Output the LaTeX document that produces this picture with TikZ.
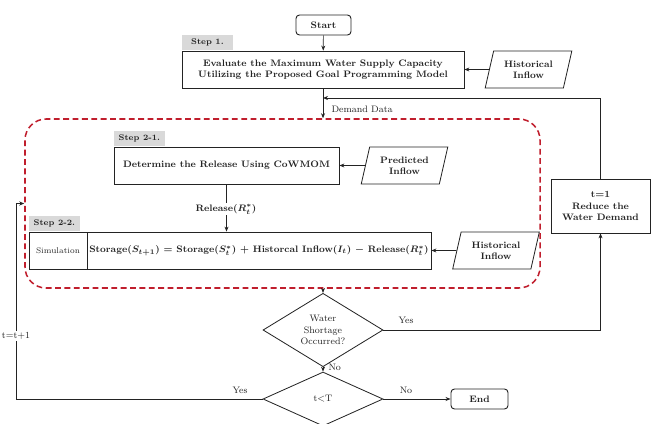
\documentclass[tikz,border=0pt]{standalone}
\usetikzlibrary{arrows.meta,positioning,shapes.geometric}
\definecolor{dashred}{RGB}{192,30,45}
\definecolor{tagfill}{RGB}{217,217,217}
\definecolor{ink}{RGB}{35,35,35}
\tikzset{
  >={Stealth[length=1.5mm,width=1.2mm]},
  term/.style={draw=ink,rounded corners=3pt,line width=0.8pt,minimum width=#1,
    minimum height=0.6cm,font=\footnotesize\bfseries},
  term/.default=1.65cm,
  proc/.style={draw=ink,line width=0.7pt,minimum width=#1,minimum height=1.11cm,
    align=center,inner sep=1pt,font=\footnotesize\bfseries},
  tag/.style={fill=tagfill,minimum width=1.53cm,minimum height=0.45cm,inner sep=1pt,
    font=\scriptsize\bfseries},
  data/.style={trapezium,trapezium stretches=true,trapezium left angle=75,
    trapezium right angle=105,draw=ink,line width=0.7pt,minimum width=2.6cm,
    minimum height=1.11cm,align=center,font=\footnotesize\bfseries},
  decide/.style={diamond,draw=ink,line width=0.7pt,minimum width=3.6cm,
    minimum height=1.62cm,inner sep=0pt,align=center,font=\footnotesize},
  lab/.style={font=\footnotesize,inner sep=1pt},
}
\begin{document}
\begin{tikzpicture}[x=0.03cm,y=-0.03cm,color=ink,line width=0.6pt]
  \useasboundingbox (0,0) rectangle (655,423);
  % dashed block round step 2
  \node[draw=dashred,dashed,line width=1.3pt,dash pattern=on 5pt off 3pt,
    rounded corners=18pt,minimum width=15.45cm,minimum height=5.07cm] (loop) at (282.5,203.5) {};
  % step 1
  \node[term] (start) at (323.5,25) {Start};
  \node[proc=8.46cm] (step1) at (323,69.5)
    {Evaluate the Maximum Water Supply Capacity\\Utilizing the Proposed Goal Programming Model};
  \node[tag,anchor=south west] (tag1) at (step1.north west) {Step 1.};
  \node[data] (hist1) at (528.5,69.5) {Historical\\Inflow};
  % step 2-1 and 2-2
  \node[proc=6.75cm] (step21) at (226.5,165.5) {Determine the Release Using CoWMOM};
  \node[tag,anchor=south west] (tag21) at (step21.north west) {Step 2-1.};
  \node[data] (pred) at (404.5,165.5) {Predicted\\Inflow};
  \node[proc=1.74cm,font=\scriptsize] (sim) at (58,250.5) {Simulation};
  \node[proc=10.32cm,font=\footnotesize\bfseries\boldmath] (eq) at (259,250.5)
    {Storage$(S_{t+1})$ = Storage$(S_t^{*})$ + Historcal Inflow$(I_t)$ $-$ Release$(R_t^{*})$};
  \node[tag,anchor=south west] (tag22) at (sim.north west) {Step 2-2.};
  \node[data] (hist2) at (496,250.5) {Historical\\Inflow};
  \node[proc=2.97cm,minimum height=1.62cm] (reduce) at (600.5,206) {t=1\\Reduce the\\Water Demand};
  % checks
  \node[decide] (d1) at (323,330) {Water\\Shortage\\Occurred?};
  \node[decide] (d2) at (323,399) {t<T};
  \node[term=1.71cm] (end) at (479.5,399) {End};
  \coordinate (fb) at (323,98);
  \coordinate (back) at (16,203.5);

  \draw[->] (start) -- (step1);
  \draw[->] (hist1) -- (step1);
  \draw[->] (step1.south) -- (step1.south |- loop.north);
  \node[lab,anchor=west] (demand) at (330,109) {Demand Data};
  \draw[->] (reduce.north) |- (fb);
  \draw[->] (pred) -- (step21);
  \draw[->] (step21.south) -- (step21.south |- eq.north);
  \node[lab,fill=white,font=\footnotesize\bfseries\boldmath] (rel) at (226,209) {Release$(R_t^{*})$};
  \draw[->] (hist2) -- (eq);
  \draw[->] (d1.north |- loop.south) -- (d1.north);
  \draw[->] (d1) -- (d2);
  \node[lab,anchor=west] (no1) at (327,367) {No};
  \draw[->] (d1.east) -| (reduce.south);
  \node[lab] (yes1) at (406,320) {Yes};
  \draw[->] (d2) -- (end);
  \node[lab] (no2) at (406,390) {No};
  \draw[->] (d2.west) -| (back) -- (loop.west);
  \node[lab] (yes2) at (240,390) {Yes};
  \node[lab,fill=white] (tt) at (16,336) {t=t+1};
\end{tikzpicture}
\end{document}
